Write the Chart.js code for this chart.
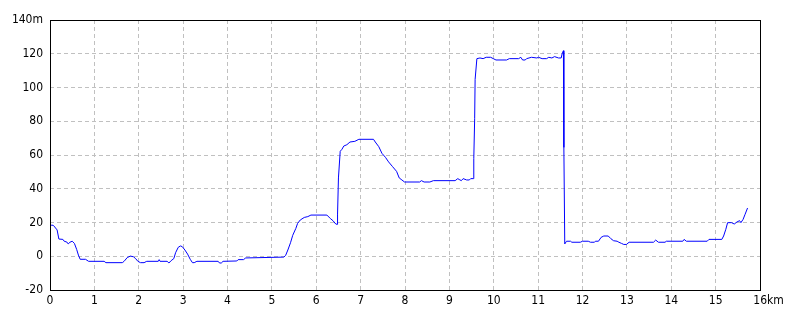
<!DOCTYPE html>
<html>
<head>
<meta charset="utf-8">
<script src="https://cdn.jsdelivr.net/npm/chart.js@4/dist/chart.umd.min.js"></script>
<style>
  body { margin: 0; background: #fff; }
  canvas { display: block; }
</style>
</head>
<body>
<canvas id="chart" width="800" height="320"></canvas>
<script>
const distKm = [
  0, 0.04, 0.08, 0.16, 0.2, 0.29, 0.32, 0.38, 0.41, 0.45, 0.5, 0.55, 0.6, 0.64, 0.68, 0.8, 0.87,
  1.22, 1.26, 1.63, 1.67, 1.74, 1.81, 1.88, 1.93, 1.98, 2.04, 2.12, 2.18, 2.44, 2.46, 2.48,
  2.64, 2.68, 2.73, 2.79, 2.83, 2.89, 2.94, 2.98, 3.04, 3.1, 3.16, 3.21, 3.25, 3.31, 3.79,
  3.82, 3.86, 3.9, 4.21, 4.24, 4.36, 4.41, 5.27, 5.31, 5.36, 5.42, 5.47, 5.54, 5.58, 5.64,
  5.73, 5.81, 5.88, 6.24, 6.32, 6.38, 6.44, 6.47, 6.48, 6.5, 6.54, 6.58, 6.62, 6.69, 6.76,
  6.87, 6.96, 7.29, 7.33, 7.41, 7.48, 7.56, 7.63, 7.72, 7.81, 7.87, 7.93, 7.99, 8.33, 8.37,
  8.43, 8.56, 8.64, 9.13, 9.19, 9.22, 9.27, 9.31, 9.39, 9.45, 9.48, 9.54, 9.55, 9.57, 9.58,
  9.62, 9.69, 9.76, 9.83, 9.93, 9.99, 10.05, 10.29, 10.35, 10.56, 10.61, 10.65, 10.71, 10.74,
  10.85, 10.97, 11.01, 11.09, 11.19, 11.24, 11.31, 11.37, 11.46, 11.52, 11.54, 11.57, 11.58,
  11.6, 11.64, 11.73, 11.76, 11.95, 12.0, 12.13, 12.18, 12.27, 12.29, 12.36, 12.42, 12.48,
  12.58, 12.64, 12.7, 12.78, 12.82, 12.88, 12.93, 12.99, 13.05, 13.6, 13.65, 13.71, 13.86,
  13.89, 14.26, 14.29, 14.34, 14.81, 14.85, 15.14, 15.18, 15.23, 15.27, 15.36, 15.42, 15.48,
  15.54, 15.57, 15.62, 15.66, 15.72
];
const elevM = [
  17.5, 18.5, 18.2, 15.6, 10.2, 10, 8.9, 8.4, 7.3, 8.3, 8.9, 7.6, 4.1, 0.7, -1.8, -1.8, -3,
  -3, -3.8, -3.8, -3, -0.8, 0.1, -0.3, -1.4, -3, -3.8, -3.8, -3, -3, -2, -3,
  -3, -4, -2.6, -1.4, 2.1, 5.3, 6.1, 5.7, 3.7, 1.3, -1.8, -3.8, -3.8, -3, -3,
  -4, -4, -3, -2.8, -2, -2, -1, -0.5, 0.5, 3.7, 8, 12.4, 16.5, 19.5, 21.5,
  23, 23.5, 24.4, 24.4, 22.3, 21, 19.1, 18.9, 25, 46.4, 62.2, 63.4, 65.3, 66.1, 67.7,
  68.1, 69.3, 69.3, 67.7, 64.9, 61, 58.6, 55.9, 53.1, 50.3, 46.4, 45.2, 44, 44, 44.8,
  44, 44, 44.8, 44.8, 46, 45.5, 44.8, 46, 45.2, 45.2, 46, 46, 57.8, 81.5, 104.8,
  117.1, 117.5, 117.1, 117.9, 117.9, 117.1, 116.3, 116.3, 117.1, 117.1, 117.9, 116.3, 116.3, 117.1,
  117.9, 117.5, 117.9, 117.1, 117.1, 117.9, 117.5, 118.3, 117.5, 117.5, 119.9, 121.8, 64.5,
  7.3, 8.9, 8.9, 8.3, 8.3, 8.9, 8.9, 8.3, 8.3, 8.9, 8.9, 11.2, 12,
  12, 10.4, 9.2, 8.9, 8.3, 7.6, 7, 7, 8.3, 8.3, 9.6, 8.3, 8.3,
  8.9, 8.9, 10, 8.9, 8.9, 10, 10, 12, 16, 19.9, 19.9, 19.1, 20.3,
  21.1, 19.9, 21.9, 24.6, 28.6
];
const xMin = 0, xMax = 16;
const yMin = -20, yMax = 140;

const tickFont = { family: "'Liberation Sans Narrow', 'DejaVu Sans Condensed', sans-serif", size: 12 };

// black frame round the plot area
const frame = {
  id: "frame",
  afterDraw(chart) {
    const a = chart.chartArea, c = chart.ctx;
    c.save();
    c.strokeStyle = "#000";
    c.lineWidth = 1;
    c.strokeRect(Math.round(a.left) + 0.5, Math.round(a.top) + 0.5,
      Math.round(a.right - a.left), Math.round(a.bottom - a.top));
    c.restore();
  }
};

new Chart(document.getElementById("chart").getContext("2d"), {
  type: "line",
  data: {
    datasets: [{
      data: distKm.map((d, i) => ({ x: d, y: elevM[i] })),
      borderColor: "#0000ff",
      borderWidth: 1,
      pointRadius: 0,
      tension: 0,
      fill: false
    }]
  },
  options: {
    responsive: false,
    animation: false,
    layout: { padding: { left: 0, top: 20, right: 40, bottom: 0 } },
    plugins: { legend: { display: false }, tooltip: { enabled: false } },
    scales: {
      x: {
        type: "linear",
        min: xMin, max: xMax,
        afterFit: s => { s.height = 30; },
        grid: { color: "#c0c0c0", drawTicks: false },
        border: { display: false, dash: [4, 3] },
        ticks: {
          stepSize: 1, padding: 4, color: "#000", font: tickFont,
          autoSkip: false, maxRotation: 0,
          callback: v => v === xMax ? "     " + v + "km" : String(v)
        }
      },
      y: {
        min: yMin, max: yMax,
        afterFit: s => { s.width = 50; },
        grid: { color: "#c0c0c0", drawTicks: false },
        border: { display: false, dash: [4, 3] },
        ticks: {
          stepSize: 20, padding: 7, color: "#000", font: tickFont,
          callback: v => v === yMax ? v + "m" : String(v)
        }
      }
    }
  },
  plugins: [frame]
});
</script>
</body>
</html>
